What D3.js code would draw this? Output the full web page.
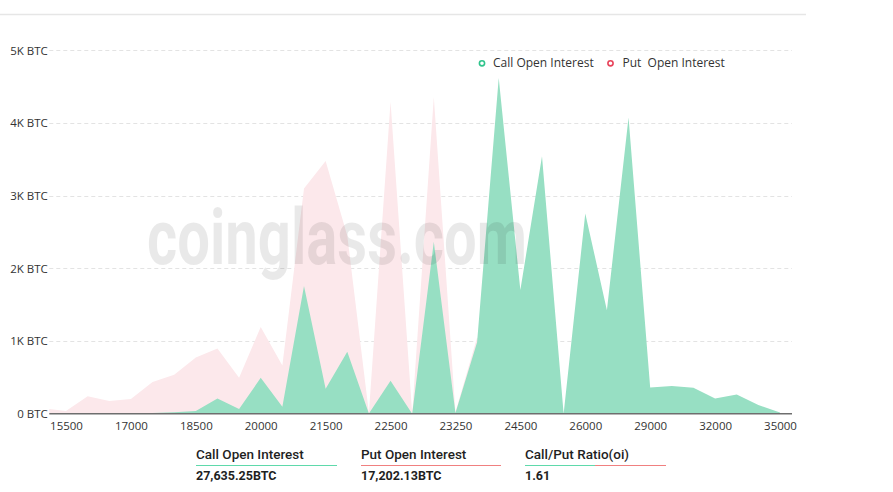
<!DOCTYPE html>
<html>
<head>
<meta charset="utf-8">
<script src="https://cdn.jsdelivr.net/npm/d3@7/dist/d3.min.js"></script>
<style>
  html, body { margin: 0; padding: 0; background: #fff; }
  svg { display: block; }
</style>
</head>
<body>
<div id="chart"></div>
<script>
// ---------- data ----------
const strikes = [15000, 15500, 16000, 16500, 17000, 17500, 18000, 18500, 19000, 19500,
  20000, 20500, 21000, 21500, 22000, 22250, 22500, 22750, 23000, 23250,
  23500, 24000, 24500, 25000, 25500, 26000, 27000, 28000, 29000, 30000,
  31000, 32000, 33000, 34000, 35000];
const callOI = [0, 0, 2, 3, 5, 12, 20, 40, 212, 65,
  495, 96, 1760, 345, 853, 5, 454, 0, 2366, 10,
  985, 4620, 1702, 3545, 0, 2757, 1426, 4077, 363, 381,
  358, 212, 267, 120, 19];
const putOI = [75, 40, 240, 175, 202, 436, 537, 773, 897, 495,
  1195, 663, 3100, 3478, 2450, 15, 4292, 8, 4360, 25,
  1050, 700, 300, 250, 0, 150, 60, 100, 40, 30,
  20, 15, 10, 5, 3];
const xTickLabels = ["15500", "17000", "18500", "20000", "21500", "22500", "23250",
  "24500", "26000", "29000", "32000", "35000"];
const yTickValues = [0, 1000, 2000, 3000, 4000, 5000];
const seriesNames = ["Call Open Interest", "Put  Open Interest"];
const summaryLabels = ["Call Open Interest", "Put Open Interest", "Call/Put Ratio(oi)"];
const summaryValues = ["27,635.25BTC", "17,202.13BTC", "1.61"];

// ---------- layout ----------
const W = 893, H = 492;
const plotLeft = 49.3, plotRight = 792, plotTop = 50.4, plotBottom = 413.8;
const callColor = "#97dfc3", putColor = "#fce8eb";
const callMark = "#2fc48c", putMark = "#e8435a";
const font = "'Open Sans', sans-serif";

const svg = d3.select("#chart").append("svg").attr("width", W).attr("height", H);

// top border line
svg.append("line").attr("x1", 0).attr("x2", 806).attr("y1", 14.5).attr("y2", 14.5)
  .attr("stroke", "#e6e6e6").attr("stroke-width", 1.5);

const x = d3.scalePoint().domain(strikes).range([44.36, 780]);
const y = d3.scaleLinear().domain([0, 5000]).range([plotBottom, plotTop]);

// gridlines
svg.append("g").selectAll("line").data(yTickValues.filter(v => v > 0)).join("line")
  .attr("x1", plotLeft).attr("x2", plotRight)
  .attr("y1", d => Math.round(y(d)) + 0.5).attr("y2", d => Math.round(y(d)) + 0.5)
  .attr("stroke", "#e3e3e3").attr("stroke-dasharray", "4,3");

// clip
svg.append("clipPath").attr("id", "clip").append("rect")
  .attr("x", plotLeft).attr("y", 0).attr("width", plotRight - plotLeft).attr("height", plotBottom);

const area = vals => d3.area()
  .x((d, i) => x(strikes[i]))
  .y0(y(0))
  .y1(d => y(d))(vals);

const g = svg.append("g").attr("clip-path", "url(#clip)");
g.append("path").attr("d", area(putOI)).attr("fill", putColor);
g.append("path").attr("d", area(callOI)).attr("fill", callColor);

// watermark
svg.append("text").text("coinglass.com")
  .attr("x", 147).attr("y", 264)
  .attr("textLength", 380).attr("lengthAdjust", "spacingAndGlyphs")
  .attr("font-family", "Roboto, sans-serif").attr("font-weight", 700).attr("font-size", 77)
  .attr("fill", "#000").attr("fill-opacity", 0.085);

// y axis labels
const yAxis = d3.axisLeft(y).tickValues(yTickValues).tickSize(0).tickPadding(0)
  .tickFormat(v => v === 0 ? "0 BTC" : (v / 1000) + "K BTC");
const yg = svg.append("g").attr("transform", `translate(${plotLeft - 1.5},0)`).call(yAxis);
yg.select(".domain").remove();
yg.selectAll("text").attr("font-family", font).attr("font-size", 11.5).attr("fill", "#333");

// x axis line
svg.append("line").attr("x1", plotLeft).attr("x2", plotRight)
  .attr("y1", plotBottom).attr("y2", plotBottom)
  .attr("stroke", "#6e6e6e").attr("stroke-width", 1.5);

// x axis labels
const xAxis = d3.axisBottom(x).tickValues(xTickLabels.map(Number)).tickSize(0).tickPadding(8);
const xg = svg.append("g").attr("transform", `translate(0,${plotBottom})`).call(xAxis);
xg.select(".domain").remove();
xg.selectAll("text").attr("font-family", font).attr("font-size", 11.5).attr("fill", "#333");

// legend
const legend = svg.append("g");
const legendPos = [{cx: 482, tx: 493, c: callMark}, {cx: 610.5, tx: 622.5, c: putMark}];
seriesNames.forEach((name, i) => {
  legend.append("circle").attr("cx", legendPos[i].cx).attr("cy", 63.3).attr("r", 2.6)
    .attr("fill", "#fff").attr("stroke", legendPos[i].c).attr("stroke-width", 1.6);
  legend.append("text").text(name).attr("x", legendPos[i].tx).attr("y", 67)
    .attr("font-family", font).attr("font-size", 12).attr("fill", "#333")
    .style("white-space", "pre").attr("xml:space", "preserve");
});

// summary
const sumX = [196, 361, 525];
const sumW = [141, 140, 141];
const sFont = "Roboto, sans-serif";
summaryLabels.forEach((lab, i) => {
  svg.append("text").text(lab).attr("x", sumX[i]).attr("y", 458.5)
    .attr("font-family", sFont).attr("font-weight", 500).attr("font-size", 13.5).attr("fill", "#1f1f1f");
  svg.append("text").text(summaryValues[i]).attr("x", sumX[i]).attr("y", 480)
    .attr("font-family", sFont).attr("font-weight", 700).attr("font-size", 12.5).attr("fill", "#1f1f1f");
});
svg.append("line").attr("x1", sumX[0]).attr("x2", sumX[0] + sumW[0]).attr("y1", 465.5).attr("y2", 465.5)
  .attr("stroke", "#5fd9ab").attr("stroke-width", 1);
svg.append("line").attr("x1", sumX[1]).attr("x2", sumX[1] + sumW[1]).attr("y1", 465.5).attr("y2", 465.5)
  .attr("stroke", "#f08080").attr("stroke-width", 1);
svg.append("line").attr("x1", sumX[2]).attr("x2", sumX[2] + 70).attr("y1", 465.5).attr("y2", 465.5)
  .attr("stroke", "#5fd9ab").attr("stroke-width", 1);
svg.append("line").attr("x1", sumX[2] + 70).attr("x2", sumX[2] + sumW[2]).attr("y1", 465.5).attr("y2", 465.5)
  .attr("stroke", "#f08080").attr("stroke-width", 1);
</script>
</body>
</html>
